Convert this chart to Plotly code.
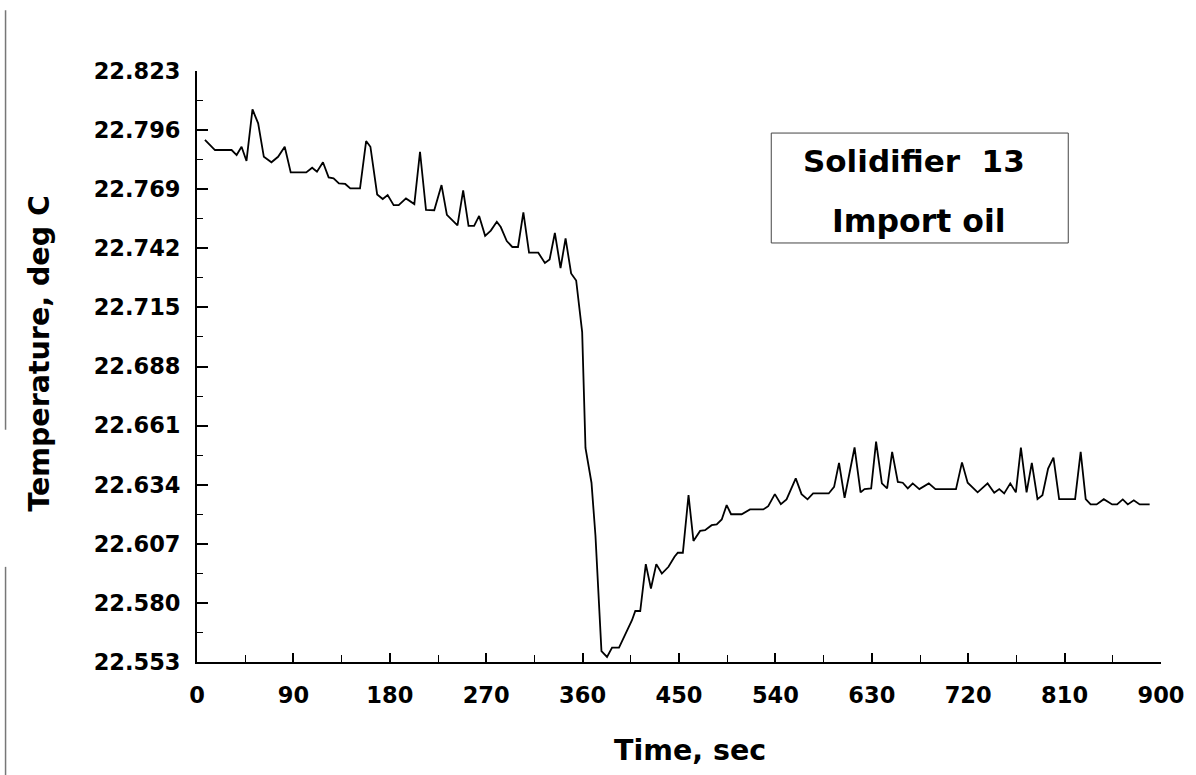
import plotly.graph_objects as go

# Solidifier 13 run with import oil: bath temperature vs elapsed time
time_s = [
    7.4, 16.8, 32.3, 37.0, 41.6, 46.2, 51.8, 57.1, 62.4, 69.5, 75.7, 81.9, 87.5,
    102.0, 107.5, 112.0, 117.6, 122.9, 127.5, 132.5, 138.4, 143.1, 152.2, 157.9,
    161.9, 168.2, 173.4, 178.0, 183.6, 188.3, 195.1, 202.9, 208.2, 213.8, 221.5,
    228.3, 233.3, 243.2, 248.5, 253.5, 258.7, 263.4, 269.0, 274.3, 279.9, 283.6,
    289.2, 294.4, 299.7, 304.7, 310.0, 318.6, 324.8, 329.2, 334.1, 339.4, 344.1,
    349.3, 354.0, 359.6, 362.7, 365.2, 368.3, 372.0, 377.6, 382.8, 387.5, 394.0,
    406.1, 409.2, 413.8, 419.0, 423.8, 428.8, 434.0, 440.2, 445.8, 448.9, 453.6,
    458.9, 463.5, 469.7, 474.3, 480.5, 485.2, 489.9, 494.5, 498.6, 508.5, 516.3,
    528.7, 533.3, 539.5, 545.1, 550.4, 559.0, 564.4, 570.0, 575.2, 589.8, 594.8,
    599.4, 604.6, 613.9, 619.5, 623.2, 629.4, 634.0, 639.4, 644.3, 649.0, 654.3,
    658.9, 663.6, 668.2, 674.4, 683.2, 689.4, 708.6, 714.2, 719.5, 728.8, 738.1,
    744.3, 749.0, 753.6, 759.3, 764.5, 769.2, 774.5, 779.4, 784.7, 789.3, 794.6,
    799.6, 804.9, 819.8, 825.0, 829.7, 834.3, 839.9, 846.6, 854.4, 859.0, 864.3,
    869.0, 874.6, 880.1, 889.4,
]
temp_c = [
    22.7915, 22.7869, 22.7869, 22.7846, 22.7884, 22.7819, 22.8055, 22.7991,
    22.7838, 22.7813, 22.7838, 22.7884, 22.7767, 22.7767, 22.7788, 22.7770,
    22.7813, 22.7744, 22.7740, 22.7717, 22.7714, 22.7694, 22.7694, 22.7910,
    22.7884, 22.7666, 22.7645, 22.7663, 22.7617, 22.7617, 22.7648, 22.7622,
    22.7861, 22.7595, 22.7594, 22.7709, 22.7573, 22.7525, 22.7685, 22.7522,
    22.7522, 22.7568, 22.7477, 22.7501, 22.7541, 22.7517, 22.7453, 22.7426,
    22.7426, 22.7584, 22.7400, 22.7400, 22.7353, 22.7369, 22.7490, 22.7330,
    22.7465, 22.7305, 22.7273, 22.7037, 22.6508, 22.6428, 22.6349, 22.6108,
    22.5580, 22.5553, 22.5596, 22.5596, 22.5721, 22.5763, 22.5763, 22.5977,
    22.5866, 22.5977, 22.5934, 22.5965, 22.6011, 22.6029, 22.6029, 22.6292,
    22.6083, 22.6129, 22.6132, 22.6155, 22.6159, 22.6181, 22.6247, 22.6205,
    22.6205, 22.6227, 22.6227, 22.6242, 22.6297, 22.6251, 22.6273, 22.6369,
    22.6297, 22.6273, 22.6300, 22.6300, 22.6330, 22.6440, 22.6280, 22.6510,
    22.6305, 22.6320, 22.6323, 22.6537, 22.6346, 22.6323, 22.6490, 22.6353,
    22.6349, 22.6323, 22.6346, 22.6320, 22.6346, 22.6320, 22.6320, 22.6442,
    22.6349, 22.6305, 22.6346, 22.6303, 22.6320, 22.6300, 22.6346, 22.6305,
    22.6510, 22.6305, 22.6440, 22.6274, 22.6292, 22.6414, 22.6464, 22.6274,
    22.6274, 22.6490, 22.6274, 22.6250, 22.6250, 22.6274, 22.6250, 22.6250,
    22.6273, 22.6250, 22.6269, 22.6250, 22.6250,
]

x_ticks = [0, 90, 180, 270, 360, 450, 540, 630, 720, 810, 900]
y_ticks = [22.553, 22.580, 22.607, 22.634, 22.661, 22.688, 22.715, 22.742,
           22.769, 22.796, 22.823]
y_tick_labels = ["22.553", "22.580", "22.607", "22.634", "22.661", "22.688",
                 "22.715", "22.742", "22.769", "22.796", "22.823"]

title_lines = ["Solidifier  13", "Import oil"]
x_title = "Time, sec"
y_title = "Temperature, deg C"

FONT = "DejaVu Sans"

fig = go.Figure()
fig.add_trace(go.Scatter(
    x=time_s, y=temp_c, mode="lines",
    line=dict(color="black", width=1.8),
    showlegend=False, hoverinfo="skip",
))

axis_common = dict(
    showgrid=False, zeroline=False, showline=True,
    linecolor="black", linewidth=2,
    ticks="inside", tickcolor="black", tickwidth=1.5,
    tickfont=dict(family=FONT, size=22.5, color="black", weight="bold"),
)

fig.update_xaxes(
    range=[0, 900], tickvals=x_ticks, ticktext=[str(v) for v in x_ticks],
    ticklen=9, ticklabelstandoff=12,
    minor=dict(dtick=45, tick0=0, ticks="inside", ticklen=7,
               tickwidth=1.2, tickcolor="black"),
    **axis_common,
)
fig.update_yaxes(
    range=[22.553, 22.823], tickvals=y_ticks, ticktext=y_tick_labels,
    ticklen=11, ticklabelstandoff=10,
    minor=dict(dtick=0.0135, tick0=22.553, ticks="inside", ticklen=6,
               tickwidth=1.2, tickcolor="black"),
    **axis_common,
)

annotations = [
    dict(text=title_lines[0], x=0.744, y=0.848, xref="paper", yref="paper",
         showarrow=False, xanchor="center", yanchor="middle",
         font=dict(family=FONT, size=31, color="black", weight="bold")),
    dict(text=title_lines[1], x=0.749, y=0.746, xref="paper", yref="paper",
         showarrow=False, xanchor="center", yanchor="middle",
         font=dict(family=FONT, size=31.5, color="black", weight="bold")),
    dict(text=x_title, x=0.511, y=-0.149, xref="paper", yref="paper",
         showarrow=False, xanchor="center", yanchor="middle",
         font=dict(family=FONT, size=28.5, color="black", weight="bold")),
    dict(text=y_title, x=-0.163, y=0.523, xref="paper", yref="paper",
         showarrow=False, xanchor="center", yanchor="middle", textangle=-90,
         font=dict(family=FONT, size=28.5, color="black", weight="bold")),
]

shapes = [
    # frame around the run label
    dict(type="rect", xref="paper", yref="paper",
         x0=0.5957, x1=0.9038, y0=0.709, y1=0.895,
         line=dict(color="#444444", width=1), fillcolor="rgba(0,0,0,0)"),
    # page edge rule on the left
    dict(type="line", xref="paper", yref="paper",
         x0=-0.1986, x1=-0.1986, y0=1.103, y1=0.393,
         line=dict(color="#777777", width=1.5)),
    dict(type="line", xref="paper", yref="paper",
         x0=-0.1986, x1=-0.1986, y0=0.161, y1=-0.195,
         line=dict(color="#777777", width=1.5)),
]

fig.update_layout(
    width=1196, height=775,
    margin=dict(l=197, r=32, t=71, b=113),
    paper_bgcolor="white", plot_bgcolor="white",
    annotations=annotations, shapes=shapes,
    showlegend=False,
)

fig.write_html("out.html")
